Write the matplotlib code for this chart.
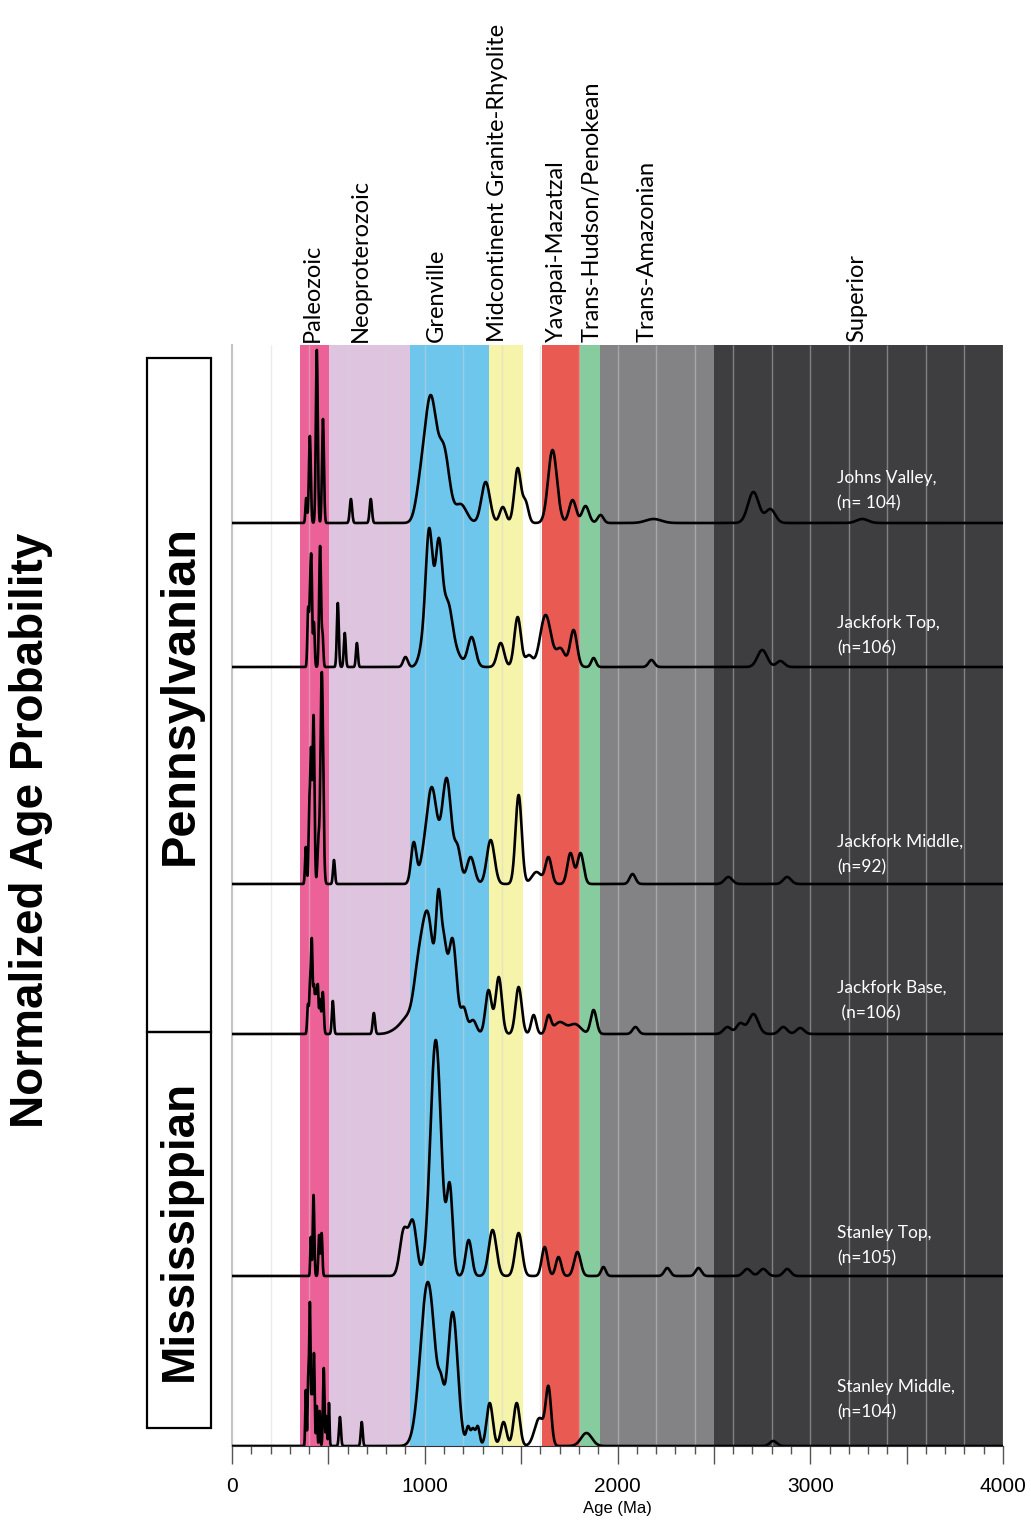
import numpy as np
import matplotlib
matplotlib.use("Agg")
import matplotlib.pyplot as plt
from matplotlib.patches import Rectangle

# ---------------------------------------------------------------- data
# Basement age provinces (Ma)
province_names = ["Paleozoic", "Neoproterozoic", "Grenville",
                  "Midcontinent Granite-Rhyolite", "Yavapai-Mazatzal",
                  "Trans-Hudson/Penokean", "Trans-Amazonian", "Superior"]
province_start = [355, 505, 925, 1335, 1610, 1805, 1910, 2500]
province_end = [505, 925, 1335, 1510, 1805, 1910, 2500, 4000]
province_label_age = [415, 664, 1058, 1375, 1681, 1868, 2153, 3243]
province_colors = ["#EC6298", "#DFC4DF", "#6EC6EC", "#F6F3AB",
                   "#E85A52", "#86CC9E", "#838386", "#3E3E41"]

# Detrital zircon samples, top of the column first
sample_names = ["Johns Valley", "Jackfork Top", "Jackfork Middle",
                "Jackfork Base", "Stanley Top", "Stanley Middle"]
sample_n_text = ["(n= 104)", "(n=106)", "(n=92)", " (n=106)", "(n=105)", "(n=104)"]

# Probability peaks for each sample: (age Ma, curve height, peak width Ma)
johns_valley = [(385, 25, 4), (404, 87, 5), (440, 173, 5), (472, 104, 5),
                (617, 24, 6), (720, 24, 6),
                (979, 59, 25), (1031, 128, 30), (1100, 78, 28), (1187, 19, 30),
                (1316, 41, 22), (1405, 16, 16), (1482, 55, 17), (1523, 23, 15),
                (1663, 73, 23), (1767, 23, 18), (1834, 17, 18), (1912, 8, 15),
                (2187, 4, 40), (2705, 31, 28), (2793, 14, 25), (3270, 4, 30)]
jackfork_top = [(395, 60, 4), (405, 85, 4), (412, 110, 4), (425, 45, 4),
                (457, 121, 5), (470, 35, 4), (549, 64, 5), (585, 34, 5), (648, 24, 5),
                (900, 10, 12), (995, 57, 22), (1024, 139, 18), (1072, 129, 18),
                (1119, 67, 25), (1171, 17, 25), (1243, 30, 20), (1394, 24, 18),
                (1482, 50, 17), (1540, 12, 18), (1627, 52, 28), (1705, 19, 22),
                (1772, 37, 18), (1876, 9, 12), (2176, 7, 15), (2751, 17, 25),
                (2845, 6, 20)]
jackfork_middle = [(383, 37, 4), (401, 85, 4), (410, 137, 4), (423, 169, 5),
                   (448, 47, 5), (466, 212, 7), (529, 24, 5),
                   (943, 42, 14), (988, 34, 17), (1036, 97, 28), (1114, 106, 24),
                   (1171, 39, 17), (1238, 27, 20), (1342, 44, 20), (1487, 89, 16),
                   (1580, 12, 25), (1642, 27, 16), (1756, 31, 16), (1808, 31, 16),
                   (2078, 10, 15), (2575, 7, 20), (2880, 7, 20)]
jackfork_base = [(394, 30, 4), (405, 56, 4), (414, 96, 4), (425, 50, 4),
                 (435, 45, 4), (445, 50, 4), (457, 35, 4), (471, 42, 5),
                 (523, 33, 5), (736, 21, 6),
                 (860, 8, 35), (910, 20, 30), (965, 80, 25), (1016, 122, 30),
                 (1072, 145, 14), (1100, 100, 14), (1143, 96, 22), (1203, 27, 15),
                 (1250, 14, 18), (1331, 44, 16), (1384, 57, 16), (1487, 47, 16),
                 (1565, 19, 13), (1642, 19, 13), (1700, 12, 30), (1780, 10, 30),
                 (1876, 24, 15), (2093, 7, 15), (2570, 7, 20), (2637, 11, 20),
                 (2705, 20, 25), (2860, 7, 20), (2948, 6, 20)]
stanley_top = [(409, 39, 3), (423, 81, 4), (452, 41, 4), (465, 43, 4),
               (891, 48, 20), (938, 56, 20), (1057, 236, 28), (1130, 93, 15),
               (1228, 36, 16), (1352, 46, 20), (1487, 43, 18), (1622, 29, 15),
               (1694, 19, 14), (1792, 24, 17), (1927, 9, 12), (2258, 8, 15),
               (2420, 8, 15), (2673, 7, 20), (2756, 7, 20), (2880, 7, 18)]
stanley_middle = [(383, 56, 3), (395, 70, 3), (404, 144, 4), (415, 60, 3),
                  (425, 93, 4), (440, 40, 3), (455, 35, 3), (476, 78, 4),
                  (490, 30, 3), (503, 43, 3), (560, 29, 5), (673, 24, 5),
                  (1016, 164, 38), (1085, 72, 14), (1145, 134, 26), (1225, 20, 10),
                  (1250, 18, 10), (1275, 20, 10), (1337, 43, 16), (1409, 24, 15),
                  (1477, 43, 16), (1595, 28, 25), (1642, 60, 14), (1839, 13, 28),
                  (2808, 5, 18)]
sample_peaks = [johns_valley, jackfork_top, jackfork_middle,
                jackfork_base, stanley_top, stanley_middle]

tick_values = [0, 500, 1000, 1500, 2000, 2500, 3000, 3500, 4000]
tick_labels = ["0", "", "1000", "", "2000", "", "3000", "", "4000"]

# ---------------------------------------------------------------- layout
W, H = 1031, 1523
stack_offsets = [923, 779, 562, 412, 170, 0]      # baseline of each curve
label_rise = [45, 44, 42, 46, 43, 59]              # first label line above baseline
ages = np.linspace(0, 4000, 4001)


def probability_curve(peaks):
    c = np.array([p[0] for p in peaks], float)
    h = np.array([p[1] for p in peaks], float)
    s = np.array([p[2] for p in peaks], float)
    g = np.exp(-0.5 * ((c[:, None] - c[None, :]) / s[None, :]) ** 2)
    amp = np.clip(np.linalg.solve(g, h), 0, None)
    return (amp[None, :] *
            np.exp(-0.5 * ((ages[:, None] - c[None, :]) / s[None, :]) ** 2)).sum(axis=1)


narrow = ["Liberation Sans Narrow", "Liberation Sans", "DejaVu Sans"]
myriad = ["Lato", "DejaVu Sans"]
heavy = ["Liberation Sans", "DejaVu Sans"]

fig = plt.figure(figsize=(W / 100, H / 100), dpi=100)
ax = fig.add_axes([232 / W, 1 - 1446 / H, (1003 - 232) / W, (1446 - 345) / H])
ax.set_xlim(0, 4000)
ax.set_ylim(0, 1101)

for x0, x1, col in zip(province_start, province_end, province_colors):
    ax.axvspan(x0, x1, color=col, lw=0, zorder=0)
ax.vlines(np.arange(0, 4001, 200), 0, 1101, colors="#d4d4d4", alpha=0.45,
          lw=1.0, zorder=1)

for peaks, base in zip(sample_peaks, stack_offsets):
    ax.plot(ages, base + probability_curve(peaks), color="black", lw=1.9,
            zorder=3, solid_joinstyle="round")

for name, ntxt, base, rise in zip(sample_names, sample_n_text, stack_offsets, label_rise):
    ax.text(3139, base + rise, name + ",", color="white", fontsize=12.5,
            family=myriad, ha="left", va="center", zorder=4)
    ax.text(3139, base + rise - 25, ntxt, color="white", fontsize=12.5,
            family=myriad, ha="left", va="center", zorder=4)

for name, age in zip(province_names, province_label_age):
    ax.annotate(name, xy=(age, 1.0), xycoords=("data", "axes fraction"),
                xytext=(0, 3), textcoords="offset pixels", rotation=90,
                ha="center", va="bottom", fontsize=17, family=myriad)

ax.set_yticks([])
ax.set_xticks(tick_values)
ax.set_xticklabels(tick_labels, family=narrow, fontsize=15)
ax.set_xticks(np.arange(0, 4001, 100), minor=True)
ax.tick_params(axis="x", which="major", length=13, width=1, color="#555555", pad=9)
ax.tick_params(axis="x", which="minor", length=6, width=1, color="#555555")
ax.set_xlabel("Age (Ma)", family=narrow, fontsize=12, labelpad=4)
for side in ("top", "right"):
    ax.spines[side].set_visible(False)
ax.spines["left"].set_color("#c4c4c4")
ax.spines["left"].set_linewidth(1.5)
ax.spines["bottom"].set_color("#333333")
ax.spines["bottom"].set_zorder(5)

# period boxes on the left
for y0, y1, label, size in ((358, 1032, "Pennsylvanian", 35),
                            (1032, 1428, "Mississippian", 33)):
    fig.add_artist(Rectangle((147 / W, 1 - y1 / H), 64 / W, (y1 - y0) / H,
                             transform=fig.transFigure, fill=False,
                             edgecolor="black", lw=1.6))
    fig.text(180 / W, 1 - (y0 + y1) / 2 / H, label, rotation=90, ha="center",
             va="center", fontsize=size, fontweight="bold", family=heavy)

fig.text(31 / W, 1 - 830 / H, "Normalized Age Probability", rotation=90,
         ha="center", va="center", fontsize=33, fontweight="bold", family=heavy)

fig.savefig("out.png", dpi=100)
